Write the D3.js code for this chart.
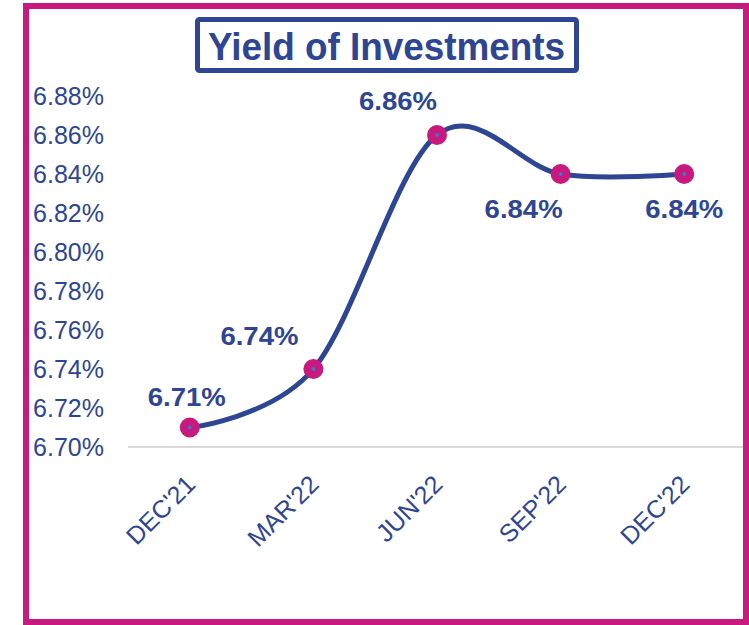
<!DOCTYPE html>
<html>
<head>
<meta charset="utf-8">
<script src="https://cdn.jsdelivr.net/npm/d3@7"></script>
<style>
body{margin:0;background:#fff;}
text{font-family:"Liberation Sans",Arial,sans-serif;}
</style>
</head>
<body>
<script>
// chart data
var categories=["DEC'21","MAR'22","JUN'22","SEP'22","DEC'22"];
var yieldPct=[6.71,6.74,6.86,6.84,6.84];
var yTicks=[6.70,6.72,6.74,6.76,6.78,6.80,6.82,6.84,6.86,6.88];
var labelPos=["above","aboveLeft","aboveLeftNear","belowLeft","below"];

var blue="#2E4593",pink="#C8197F";

var svg=d3.select("body").append("svg")
.attr("width",749)
.attr("height",625);

// outer frame
svg.append("rect")
.attr("x",26).attr("y",6)
.attr("width",720).attr("height",616)
.attr("fill","#fff")
.attr("stroke",pink)
.attr("stroke-width",6);

var x=d3.scaleBand().domain(categories).range([128,746]);
var y=d3.scaleLinear().domain([6.70,6.88]).range([447,96]);

// title
svg.append("rect")
.attr("x",197.5).attr("y",19.5)
.attr("width",379).attr("height",51)
.attr("rx",2)
.attr("fill","#fff")
.attr("stroke",blue)
.attr("stroke-width",5);
svg.append("text")
.attr("x",208).attr("y",60)
.attr("font-size",39)
.attr("font-weight","bold")
.attr("fill",blue)
.attr("textLength",357)
.attr("lengthAdjust","spacingAndGlyphs")
.text("Yield of Investments");

// y axis labels
svg.selectAll(".ytick").data(yTicks).enter().append("text")
.attr("class","ytick")
.attr("x",104)
.attr("y",function(d){return y(d);})
.attr("dy","0.36em")
.attr("text-anchor","end")
.attr("font-size",25)
.attr("fill",blue)
.text(function(d){return d.toFixed(2)+"%";});

// baseline
svg.append("line")
.attr("x1",128).attr("x2",743)
.attr("y1",y(6.70)).attr("y2",y(6.70))
.attr("stroke","#d9d9d9")
.attr("stroke-width",2);

// x labels
svg.selectAll(".xtick").data(categories).enter().append("text")
.attr("class","xtick")
.attr("text-anchor","end")
.attr("font-size",25)
.attr("fill",blue)
.attr("transform",function(d){
	var cx=x(d)+x.bandwidth()/2+7;
	return "translate("+cx+",486) rotate(-45)";
})
.text(function(d){return d;});

var pts=categories.map(function(c,i){return [x(c)+x.bandwidth()/2,y(yieldPct[i])];});

svg.append("path")
.attr("d",d3.line().curve(d3.curveCardinal.tension(0))(pts))
.attr("fill","none")
.attr("stroke",blue)
.attr("stroke-width",5);

svg.selectAll(".dot").data(pts).enter().append("circle")
.attr("class","dot")
.attr("cx",function(d){return d[0];})
.attr("cy",function(d){return d[1];})
.attr("r",10)
.attr("fill",pink);
svg.selectAll(".pip").data(pts).enter().append("circle")
.attr("class","pip")
.attr("cx",function(d){return d[0];})
.attr("cy",function(d){return d[1];})
.attr("r",2)
.attr("fill","#4472C4");

// data labels
var off={above:[-3,-22],aboveLeft:[-54,-24],aboveLeftNear:[-39,-25],belowLeft:[-37,44],below:[0,44]};
svg.selectAll(".lbl").data(yieldPct).enter().append("text")
.attr("class","lbl")
.attr("x",function(d,i){return pts[i][0]+off[labelPos[i]][0];})
.attr("y",function(d,i){return pts[i][1]+off[labelPos[i]][1];})
.attr("text-anchor","middle")
.attr("font-size",25)
.attr("font-weight","bold")
.attr("fill",blue)
.attr("textLength",78)
.attr("lengthAdjust","spacingAndGlyphs")
.text(function(d){return d.toFixed(2)+"%";});
</script>
</body>
</html>
